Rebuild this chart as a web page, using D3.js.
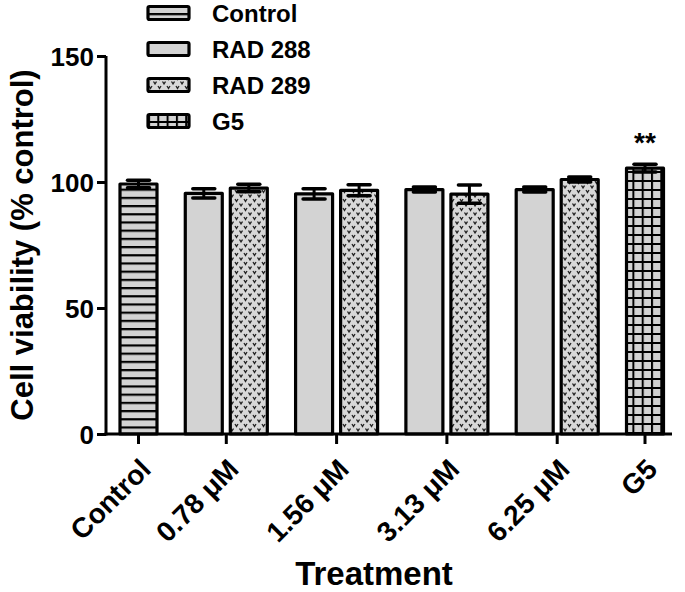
<!DOCTYPE html>
<html>
<head>
<meta charset="utf-8">
<script src="https://cdn.jsdelivr.net/npm/d3@7"></script>
<style>
  html, body { margin: 0; padding: 0; background: #fff; }
  svg { display: block; }
  text { font-family: "Liberation Sans", Arial, sans-serif; font-weight: bold; fill: #000; }
</style>
</head>
<body>
<svg id="chart" width="685" height="592"></svg>
<script>
// ---- data ----
const categories = ["Control", "0.78 \u03bcM", "1.56 \u03bcM", "3.13 \u03bcM", "6.25 \u03bcM", "G5"];
const seriesNames = ["Control", "RAD 288", "RAD 289", "G5"];
const controlValues = [99.2];
const controlErr = [1.5];
const rad288Values = [95.5, 95.3, 97.0, 97.0];
const rad288Err = [1.8, 2.0, 1.0, 1.0];
const rad289Values = [97.6, 96.7, 95.2, 101.0];
const rad289Err = [1.5, 2.2, 3.6, 1.0];
const g5Values = [105.5];
const g5Err = [1.5];
const yTicks = [0, 50, 100, 150];
const significance = "**";

// ---- build bar table ----
const GAP = 0.45;
const bars = [];
bars.push({ series: 0, cat: 0, value: controlValues[0], err: controlErr[0], slot: 0 });
for (let i = 0; i < 4; i++) {
  bars.push({ series: 1, cat: i + 1, value: rad288Values[i], err: rad288Err[i], slot: 1 + 2 * i + (i + 1) * GAP });
  bars.push({ series: 2, cat: i + 1, value: rad289Values[i], err: rad289Err[i], slot: 2 + 2 * i + (i + 1) * GAP });
}
bars.push({ series: 3, cat: 5, value: g5Values[0], err: g5Err[0], slot: 9 + 5 * GAP });
const catSlot = categories.map((c, i) => d3.mean(bars.filter(b => b.cat === i), b => b.slot));

const svg = d3.select("#chart");
const x = d3.scaleLinear().domain([0, 9 + 5 * GAP]).range([138.5, 645]);
const y = d3.scaleLinear().domain([0, 150]).range([434, 56]);
const axisLeft = 106, axisRight = 672;
const barW = 37;

// ---- patterns ----
const defs = svg.append("defs");
const gray = "#d3d3d3";
const pH = defs.append("pattern").attr("id", "p-h").attr("patternUnits", "userSpaceOnUse")
  .attr("width", 10).attr("height", 8.2);
pH.append("rect").attr("width", 10).attr("height", 8.2).attr("fill", gray);
pH.append("rect").attr("y", 0).attr("width", 10).attr("height", 2.2).attr("fill", "#000");

const pS = defs.append("pattern").attr("id", "p-s").attr("patternUnits", "userSpaceOnUse")
  .attr("width", 10).attr("height", 10);
pS.append("rect").attr("width", 10).attr("height", 10).attr("fill", gray);

const pD = defs.append("pattern").attr("id", "p-d").attr("patternUnits", "userSpaceOnUse")
  .attr("width", 9).attr("height", 9);
pD.append("rect").attr("width", 9).attr("height", 9).attr("fill", "#d8d8d8");
pD.append("path").attr("d", "M1,1 L2.5,3.4 L4,1").attr("fill", "none").attr("stroke", "#222").attr("stroke-width", 1.3);
pD.append("path").attr("d", "M5.5,5.5 L7,7.9 L8.5,5.5").attr("fill", "none").attr("stroke", "#222").attr("stroke-width", 1.3);

const pG = defs.append("pattern").attr("id", "p-g").attr("patternUnits", "userSpaceOnUse")
  .attr("width", 9.3).attr("height", 9);
pG.append("rect").attr("width", 9.3).attr("height", 9).attr("fill", gray);
pG.append("rect").attr("x", 0).attr("width", 2).attr("height", 9).attr("fill", "#000");
pG.append("rect").attr("y", 0).attr("width", 9.3).attr("height", 2).attr("fill", "#000");

const fills = ["url(#p-h)", "url(#p-s)", "url(#p-d)", "url(#p-g)"];

// ---- bars ----
svg.append("g").selectAll("rect").data(bars).join("rect")
  .attr("x", d => x(d.slot) - barW / 2)
  .attr("y", d => y(d.value))
  .attr("width", barW)
  .attr("height", d => y(0) - y(d.value))
  .attr("fill", d => fills[d.series])
  .attr("stroke", "#000").attr("stroke-width", 3.2).attr("stroke-linejoin", "round");

// ---- error bars ----
const eg = svg.append("g");
eg.selectAll("line.v").data(bars).join("line").attr("class", "v")
  .attr("x1", d => x(d.slot)).attr("x2", d => x(d.slot))
  .attr("y1", d => y(d.value + d.err)).attr("y2", d => y(d.value - d.err))
  .attr("stroke", "#000").attr("stroke-width", 3);
eg.selectAll("line.t").data(bars).join("line").attr("class", "t")
  .attr("x1", d => x(d.slot) - 11).attr("x2", d => x(d.slot) + 11)
  .attr("y1", d => y(d.value + d.err)).attr("y2", d => y(d.value + d.err))
  .attr("stroke", "#000").attr("stroke-width", 3.5).attr("stroke-linecap", "round");
eg.selectAll("line.b").data(bars).join("line").attr("class", "b")
  .attr("x1", d => x(d.slot) - 11).attr("x2", d => x(d.slot) + 11)
  .attr("y1", d => y(d.value - d.err)).attr("y2", d => y(d.value - d.err))
  .attr("stroke", "#000").attr("stroke-width", 3.5).attr("stroke-linecap", "round");

// ---- y axis ----
const yAxis = svg.append("g").attr("transform", `translate(${axisLeft},0)`)
  .call(d3.axisLeft(y).tickValues(yTicks).tickSize(9).tickPadding(3).tickFormat(d3.format("d")));
yAxis.select(".domain").attr("stroke", "#000").attr("stroke-width", 3).attr("d", `M0,${y(150)}V${y(0) + 1.5}`);
yAxis.selectAll(".tick line").attr("stroke", "#000").attr("stroke-width", 3);
yAxis.selectAll(".tick text").attr("font-size", 26).attr("font-family", "Liberation Sans, Arial, sans-serif")
  .attr("font-weight", "bold").attr("fill", "#000").attr("dy", "0.36em");

// ---- x axis ----
const xg = svg.append("g").attr("transform", `translate(0,${y(0)})`);
xg.append("line").attr("x1", axisLeft - 1.5).attr("x2", axisRight).attr("y1", 0).attr("y2", 0)
  .attr("stroke", "#000").attr("stroke-width", 3);
xg.selectAll("line.tick").data(categories).join("line").attr("class", "tick")
  .attr("x1", (d, i) => x(catSlot[i])).attr("x2", (d, i) => x(catSlot[i]))
  .attr("y1", 0).attr("y2", 10).attr("stroke", "#000").attr("stroke-width", 3);
xg.selectAll("text").data(categories).join("text")
  .attr("transform", (d, i) => `translate(${x(catSlot[i]) + 14},${37}) rotate(-45)`)
  .attr("text-anchor", "end").attr("font-size", 28).text(d => d);

// ---- titles ----
svg.append("text").attr("transform", `translate(33,245) rotate(-90)`)
  .attr("text-anchor", "middle").attr("font-size", 31).text("Cell viability (% control)");
svg.append("text").attr("x", 374).attr("y", 585).attr("text-anchor", "middle")
  .attr("font-size", 33).text("Treatment");

// ---- significance ----
const g5bar = bars[bars.length - 1];
svg.append("text").attr("x", x(g5bar.slot)).attr("y", y(g5bar.value + g5bar.err) - 12)
  .attr("text-anchor", "middle").attr("font-size", 28).text(significance);

// ---- legend ----
const legendY = [13, 49, 85, 121];
const lg = svg.append("g").selectAll("g").data(seriesNames).join("g")
  .attr("transform", (d, i) => `translate(148,${legendY[i]})`);
lg.append("rect").attr("x", 0).attr("y", -6.5).attr("width", 41).attr("height", 13)
  .attr("rx", 1.5).attr("fill", (d, i) => fills[i]).attr("stroke", "#000").attr("stroke-width", 3.2);
lg.append("text").attr("x", 64).attr("y", 0).attr("dy", "0.36em").attr("font-size", 24).text(d => d);
</script>
</body>
</html>
